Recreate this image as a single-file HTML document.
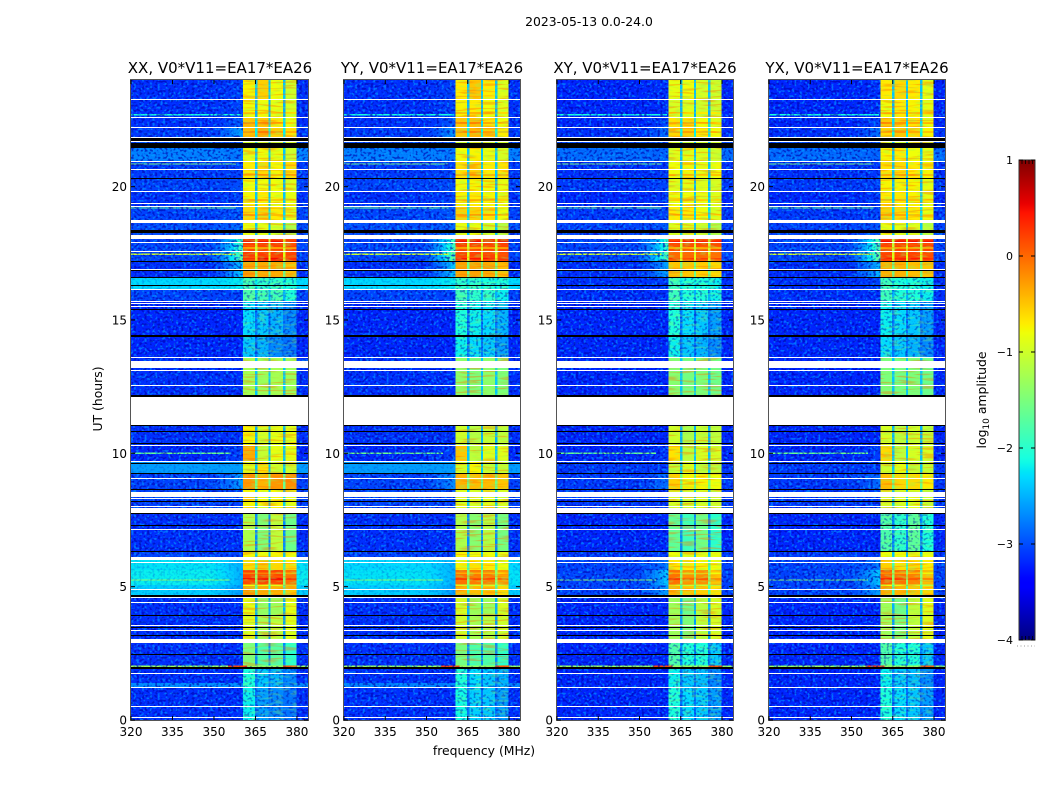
<!DOCTYPE html>
<html lang="en">
<head>
<meta charset="utf-8">
<title>2023-05-13 spectrogram panels</title>
<style>
html,body{margin:0;padding:0;background:#fff;width:1050px;height:800px;overflow:hidden}
svg{display:block}
text{font-family:"DejaVu Sans","Liberation Sans",sans-serif;fill:#000}
.tick{font-size:12px}
.title{font-size:15px}
.label{font-size:12.4px}
</style>
</head>
<body>
<svg id="chart" xmlns="http://www.w3.org/2000/svg" width="1050" height="800" viewBox="0 0 1050 800">
  <defs>
    <!-- Purely visual grain over the cells; it carries no data -->
    <filter id="grainLight" x="0" y="0" width="100%" height="100%" color-interpolation-filters="sRGB">
      <feTurbulence type="fractalNoise" baseFrequency="0.38 0.42" numOctaves="1" seed="4"/>
      <feColorMatrix type="matrix" values="0 0 0 0 0  0 0 0 0 0.62  0 0 0 0 1  7 0 0 0 -3.7"/>
    </filter>
    <filter id="grainDark" x="0" y="0" width="100%" height="100%" color-interpolation-filters="sRGB">
      <feTurbulence type="fractalNoise" baseFrequency="0.38 0.42" numOctaves="1" seed="11"/>
      <feColorMatrix type="matrix" values="0 0 0 0 0  0 0 0 0 0  0 0 0 0 0.68  7 0 0 0 -3.6"/>
    </filter>
    <filter id="streakOrange" x="0" y="0" width="100%" height="100%" color-interpolation-filters="sRGB">
      <feTurbulence type="fractalNoise" baseFrequency="0.05 0.5" numOctaves="1" seed="7"/>
      <feColorMatrix type="matrix" values="0 0 0 0 1  0 0 0 0 0.45  0 0 0 0 0  7 0 0 0 -3.6"/>
    </filter>
    <filter id="streakLime" x="0" y="0" width="100%" height="100%" color-interpolation-filters="sRGB">
      <feTurbulence type="fractalNoise" baseFrequency="0.12 0.45" numOctaves="1" seed="21"/>
      <feColorMatrix type="matrix" values="0 0 0 0 0.55  0 0 0 0 1  0 0 0 0 0.35  7 0 0 0 -3.6"/>
    </filter>
    <linearGradient id="cbarGradient" x1="0" y1="1" x2="0" y2="0"></linearGradient>
  </defs>
  <text x="589" y="26" text-anchor="middle" class="label">2023-05-13 0.0-24.0</text>
  <text transform="translate(102,399) rotate(-90)" text-anchor="middle" class="label">UT (hours)</text>
  <text x="484" y="755" text-anchor="middle" class="label">frequency (MHz)</text>
  <text transform="translate(986,400) rotate(-90)" text-anchor="middle" class="label">log<tspan font-size="9" dy="3">10</tspan><tspan dy="-3"> amplitude</tspan></text>
  <g id="panels"></g>
  <g id="colorbar"></g>
</svg>
<script>
// ---- Axis data ----
const xTickValues = [320, 335, 350, 365, 380];
const yTickValues = [0, 5, 10, 15, 20];
const cbarTickValues = [-4, -3, -2, -1, 0, 1];
const panelTitles = ["XX, V0*V11=EA17*EA26", "YY, V0*V11=EA17*EA26", "XY, V0*V11=EA17*EA26", "YX, V0*V11=EA17*EA26"];

// ---- Heatmap bins ----
// UT edges of the time bins, descending
const utEdges = [24,23.25,22.575,22.2,21.825,21.45,20.925,20.29,19.8,19.275,18.7,18.19,17.55,17.21,16.575,16.125,15.675,14.4,13.575,12.11,11.06,10.31,9.675,9.225,8.66,7.76,6.3,6.0,5.625,5.06,4.69,3.9,2.89,2.025,1.39,1.2,0];
// Frequency edges (MHz): background, band edge, then windows separated by gaps
const freqEdges = [320,349,360.5,364.8,365.7,369.8,370.5,374.9,375.8,379.9,384];

// log10 amplitude in the gaps between the spectral windows, per time bin
const gapLevel = [-2.4,-2.5,-2.3,-2.2,-2.5,-2.4,-2.4,-2.5,-2.4,-2.3,-2.4,-1.0,-0.9,-1.6,-2.2,-2.5,-2.8,-2.8,-2.4,-2.8,-2.5,-2.4,-2.4,-1.6,-2.4,-2.7,-2.4,-1.9,-1.4,-1.8,-2.5,-2.6,-2.7,-2.8,-2.8,-2.8];

// Per-panel rows: [background, band-edge, window 1, window 2, window 3, window 4]
const levelsXX = [
[-3.15,-3.05,-.75,-.55,-.8,-1.0],[-3.15,-3.05,-.8,-.8,-.85,-.95],[-3.15,-2.95,-.5,-.5,-.7,-.85],[-3.1,-2.6,-.45,-.35,-.55,-.65],
[-3,-3,-1,-1,-1,-1],[-2.75,-2.8,-.85,-.8,-.85,-1.0],[-3.1,-3.05,-.7,-.6,-.75,-.6],[-3.05,-3,-.8,-.8,-.8,-.9],
[-3.15,-3.05,-.75,-.7,-.8,-.85],[-3.05,-2.95,-.6,-.55,-.7,-.85],[-3,-2.85,-.85,-.85,-.95,-1.2],[-3.05,-1.9,.2,.2,.2,.2],
[-3.05,-1.7,.25,.25,.25,.2],[-3.15,-2.4,-.3,-.35,-.35,-.45],[-2.3,-2.2,-1.9,-2,-2,-2.1],[-3.05,-3.05,-1.8,-1.9,-1.9,-2.1],
[-3.2,-3.2,-2.3,-2.4,-2.5,-2.7],[-3.2,-3.2,-2.4,-2.5,-2.7,-2.8],[-3.15,-3.15,-1.25,-1.3,-1.25,-1.3],[-3.1,-3.1,-2,-2,-2,-2],
[-3.15,-3.15,-.75,-.95,-.85,-.85],[-3.2,-3.05,-.35,-1.05,-.85,-.85],[-2.6,-2.6,-.9,-.65,-1,-1],[-3.05,-2.6,-.25,-.4,-.25,-.2],
[-3.05,-3.05,-.75,-.8,-.75,-.85],[-3.15,-3.15,-1.2,-1.5,-1.1,-1.6],[-3.05,-3.05,-.75,-.8,-.75,-.8],[-2.25,-2.5,-.6,-.5,-.6,-.7],
[-2.2,-2.5,.2,.18,.18,-.05],[-2.35,-2.6,-.3,-.35,-.4,-.5],[-3.15,-3.15,-.85,-1.35,-1.3,-.85],[-3.15,-3.15,-.9,-1.25,-1.1,-.9],
[-3.15,-3.15,-1.5,-1.8,-1.75,-2],[-3.15,-3.15,-2.1,-2.4,-2.5,-2.7],[-2.7,-2.7,-2.1,-2.4,-2.5,-2.7],[-3.15,-3.15,-2.2,-2.6,-2.7,-2.8]];

const levelsYY = [
[-3.15,-3.05,-.7,-.5,-.7,-.9],[-3.15,-3.05,-.75,-.7,-.8,-.9],[-3.15,-2.95,-.5,-.45,-.65,-.8],[-3.1,-2.7,-.5,-.4,-.55,-.7],
[-3,-3,-1,-1,-1,-1],[-2.75,-2.8,-.8,-.75,-.85,-.95],[-3.1,-3.05,-.65,-.55,-.7,-.65],[-3.05,-3,-.8,-.75,-.8,-.85],
[-3.15,-3.05,-.75,-.7,-.75,-.85],[-3.05,-2.95,-.55,-.55,-.65,-.8],[-3,-2.85,-.85,-.85,-.95,-1.15],[-3.05,-1.9,.2,.2,.2,.2],
[-3.05,-1.7,.2,.2,.2,.15],[-3.15,-2.4,-.3,-.3,-.35,-.45],[-2.3,-2.2,-2,-2,-2.1,-2.1],[-3.05,-3.05,-1.9,-2,-2,-2.2],
[-3.2,-3.2,-2.1,-2.2,-2.3,-2.5],[-3.2,-3.2,-2.2,-2.3,-2.4,-2.6],[-3.15,-3.15,-1.4,-1.5,-1.4,-1.5],[-3.1,-3.1,-2,-2,-2,-2],
[-3.15,-3.15,-1.0,-1.15,-1.05,-1.1],[-3.2,-3.05,-.5,-1.1,-.9,-.9],[-2.6,-2.6,-.95,-.75,-1.05,-1.05],[-3.05,-2.7,-.4,-.45,-.45,-.5],
[-3.05,-3.05,-.9,-.95,-.9,-.95],[-3.15,-3.15,-1.2,-1.45,-1.15,-1.55],[-3.05,-3.05,-.75,-.8,-.8,-.85],[-2.3,-2.5,-.75,-.65,-.7,-.8],
[-2.25,-2.5,-.05,-.1,-.1,-.3],[-2.35,-2.6,-.4,-.45,-.5,-.6],[-3.15,-3.15,-.95,-1.3,-1.3,-.95],[-3.15,-3.15,-1,-1.25,-1.15,-1],
[-3.15,-3.15,-1.55,-1.85,-1.8,-2],[-3.15,-3.15,-2.1,-2.3,-2.4,-2.5],[-2.75,-2.75,-2.1,-2.3,-2.4,-2.5],[-3.15,-3.15,-2.15,-2.35,-2.4,-2.6]];

const levelsXY = [
[-3.2,-3.15,-.85,-.8,-.95,-1.0],[-3.2,-3.15,-.95,-.9,-1,-1],[-3.2,-3.05,-.65,-.65,-.8,-.9],[-3.15,-2.85,-.6,-.55,-.7,-.8],
[-3,-3,-1,-1,-1,-1],[-2.85,-2.9,-.9,-.85,-.9,-1],[-3.15,-3.1,-.8,-.75,-.85,-.8],[-3.1,-3.05,-.9,-.85,-.9,-.95],
[-3.2,-3.1,-.8,-.8,-.85,-.9],[-3.1,-3.05,-.7,-.7,-.8,-.9],[-3.05,-2.95,-.9,-.9,-1,-1.2],[-3.05,-2.0,.15,.15,.15,.15],
[-3.05,-1.8,.0,.0,.0,-.05],[-3.15,-2.6,-.5,-.5,-.55,-.6],[-3.15,-3.05,-1.9,-2.1,-2.1,-2.2],[-3.15,-3.15,-1.9,-2.1,-2.1,-2.2],
[-3.2,-3.2,-2.1,-2.3,-2.4,-2.6],[-3.2,-3.2,-2.2,-2.4,-2.5,-2.7],[-3.2,-3.2,-1.45,-1.55,-1.5,-1.6],[-3.1,-3.1,-2,-2,-2,-2],
[-3.2,-3.2,-1,-1.2,-1.05,-1.1],[-3.2,-3.1,-.65,-1.1,-.95,-.95],[-3.1,-3.1,-1.05,-.9,-1.1,-1.1],[-3.1,-2.85,-.55,-.75,-.75,-.8],
[-3.1,-3.1,-.95,-1,-.95,-1],[-3.2,-3.2,-1.7,-1.9,-1.6,-2],[-3.1,-3.1,-.8,-.85,-.85,-.85],[-3.05,-2.8,-.7,-.7,-.75,-.8],
[-3.05,-2.4,-.05,-.25,-.2,-.5],[-3.05,-2.6,-.4,-.5,-.55,-.65],[-3.2,-3.2,-1.3,-1.6,-1.15,-.95],[-3.2,-3.2,-1.3,-1.5,-1.1,-.95],
[-3.2,-3.2,-1.8,-2.1,-2.1,-2.4],[-3.2,-3.2,-2.2,-2.4,-2.45,-2.7],[-3.2,-3.2,-2.2,-2.4,-2.45,-2.7],[-3.2,-3.2,-2.1,-2.3,-2.4,-2.6]];

const levelsYX = [
[-3.2,-3.15,-.7,-.6,-.7,-.85],[-3.2,-3.15,-.8,-.7,-.75,-.85],[-3.2,-3.05,-.5,-.55,-.65,-.8],[-3.15,-2.85,-.6,-.5,-.6,-.75],
[-3,-3,-1,-1,-1,-1],[-2.85,-2.9,-.75,-.7,-.8,-.85],[-3.15,-3.1,-.65,-.6,-.7,-.75],[-3.1,-3.05,-.75,-.75,-.75,-.85],
[-3.2,-3.1,-.7,-.7,-.75,-.85],[-3.1,-3.05,-.55,-.6,-.7,-.8],[-3.05,-2.95,-.85,-.85,-.9,-1.1],[-3.05,-1.8,.2,.2,.2,.2],
[-3.05,-1.7,.2,.2,.2,.15],[-3.15,-2.5,-.4,-.4,-.45,-.5],[-3.15,-3.05,-1.9,-2.1,-2.1,-2.2],[-3.15,-3.15,-1.9,-2.1,-2.1,-2.2],
[-3.2,-3.2,-2.2,-2.3,-2.4,-2.6],[-3.2,-3.2,-2.3,-2.4,-2.5,-2.7],[-3.2,-3.2,-1.5,-1.55,-1.5,-1.6],[-3.1,-3.1,-2,-2,-2,-2],
[-3.2,-3.2,-.95,-1.1,-1,-1.05],[-3.2,-3.1,-.6,-1.1,-.95,-.95],[-3.1,-3.1,-1,-.85,-1.05,-1.05],[-3.1,-2.85,-.45,-.6,-.6,-.7],
[-3.1,-3.1,-.95,-.95,-.9,-1],[-3.2,-3.2,-1.8,-2,-1.7,-2.1],[-3.1,-3.1,-.8,-.8,-.85,-.8],[-3.05,-2.8,-.55,-.65,-.6,-.7],
[-3.05,-2.4,.05,-.05,-.15,-.45],[-3.05,-2.6,-.35,-.4,-.5,-.6],[-3.2,-3.2,-1.3,-1.6,-1.1,-.9],[-3.2,-3.2,-1.3,-1.5,-1.1,-.9],
[-3.2,-3.2,-1.8,-2.1,-2.1,-2.4],[-3.2,-3.2,-2.2,-2.4,-2.45,-2.7],[-3.2,-3.2,-2.2,-2.4,-2.45,-2.7],[-3.2,-3.2,-2.1,-2.3,-2.4,-2.6]];

const panelLevels = [levelsXX, levelsYY, levelsXY, levelsYX];

// Thin horizontal structure inside the spectral windows: UT and offset in log10 amplitude
const stripeUT = [22.76,22.39,22.05,20.44,19.5,18.94,17.95,17.7,17.3,5.5,5.29,5.05];
const stripeShift = [0.3,0.3,0.25,0.3,0.3,0.25,0.3,-0.5,0.25,-0.3,0.3,-0.5];

// Narrow interference lines: UT, start MHz, end MHz, log10 amplitude
const rfiUT = [22.7,20.85,19.2,17.47,10.0,5.25,2.02,2.02,2.02];
const rfiStart = [320,320,320,320,320,320,320,355,375];
const rfiEnd = [360,358,358,358,356,356,384,362,380];
const rfiLevel = [-2.1,-1.5,-1.6,-1.0,-1.6,-1.4,-1.3,0.2,0.1];

// Flagged intervals: UT top, UT bottom
const whiteFlags = [[23.27,23.22],[22.6,22.55],[22.22,22.17],[21.88,21.84],[21.7,21.65],[20.95,20.9],[20.68,20.63],[19.82,19.77],[19.37,19.32],[19.29,19.24],[18.75,18.64],[18.19,18.04],[17.91,17.86],[17.57,17.52],[16.93,16.88],[16.15,16.1],[15.7,15.65],[15.62,15.57],[15.51,15.46],[13.6,13.55],[13.46,13.2],[13.11,13.06],[12.58,12.53],[12.11,11.06],[10.33,10.28],[9.7,9.65],[9.06,9.01],[8.55,8.36],[8.31,8.26],[8.01,7.96],[7.95,7.76],[7.18,7.13],[6.11,6.0],[5.91,5.86],[4.9,4.85],[4.6,4.55],[4.41,4.36],[3.58,3.53],[3.36,3.31],[3.04,2.89],[1.78,1.73],[1.22,1.17],[0.51,0.46],[0.1,0.05]];
const blackFlags = [[21.825,21.7],[21.65,21.45],[20.31,20.26],[18.375,18.26],[17.23,17.18],[16.86,16.81],[16.6,16.55],[16.33,16.28],[15.4,15.35],[14.44,14.36],[12.17,12.11],[11.06,11.02],[10.82,10.77],[10.37,10.32],[9.62,9.57],[9.25,9.2],[8.68,8.63],[8.2,8.15],[7.76,7.71],[7.33,7.28],[6.32,6.27],[4.69,4.61],[3.92,3.87],[3.47,3.42],[3.17,3.12],[2.46,2.41],[1.97,1.9]];

// ---- Layout and scales ----
const panelLeft = [131, 344, 557, 769];
const panelWidth = [177, 176, 176, 176];
const titleCenter = [220, 432, 645, 857];
let plotWidth = 177;
const plotTop = 80, plotBottom = 720;
const cbarLeft = 1019, cbarRight = 1035, cbarTop = 160, cbarBottom = 640;
const NS = "http://www.w3.org/2000/svg";
const panelsRoot = document.getElementById("panels");
const cbarRoot = document.getElementById("colorbar");
const defsRoot = document.querySelector("defs");

function xScale(mhz, left) { return left + (mhz - 320) / 64 * plotWidth; }
function yScale(ut) { return plotBottom - ut / 24 * (plotBottom - plotTop); }
function cbarScale(v) { return cbarBottom - (v + 4) / 5 * (cbarBottom - cbarTop); }

function interp(stops, t) {
  for (let i = 1; i < stops.length; i++) {
    if (t <= stops[i][0]) {
      const a = stops[i - 1], b = stops[i];
      return a[1] + (b[1] - a[1]) * (t - a[0]) / (b[0] - a[0]);
    }
  }
  return stops[stops.length - 1][1];
}
const jetR = [[0,0],[.35,0],[.66,1],[.89,1],[1,.5]];
const jetG = [[0,0],[.125,0],[.375,1],[.64,1],[.91,0],[1,0]];
const jetB = [[0,.5],[.11,1],[.34,1],[.65,0],[1,0]];
function colorFor(v) {
  const t = Math.max(0, Math.min(1, (v + 4) / 5));
  const c = s => Math.round(255 * interp(s, t));
  return "rgb(" + c(jetR) + "," + c(jetG) + "," + c(jetB) + ")";
}
function make(tag, attrs, parent) {
  const el = document.createElementNS(NS, tag);
  for (const k in attrs) el.setAttribute(k, attrs[k]);
  parent.appendChild(el);
  return el;
}
function levelForColumn(row, rowIndex, col) {
  if (col === 0 || col === 9) return row[0];
  if (col === 1) return row[1];
  if (col === 2) return row[2];
  if (col === 3 || col === 5 || col === 7) return gapLevel[rowIndex];
  if (col === 4) return row[3];
  if (col === 6) return row[4];
  return row[5];
}
function rowIndexFor(ut) {
  for (let r = 0; r < utEdges.length - 1; r++) {
    if (ut <= utEdges[r] && ut > utEdges[r + 1]) return r;
  }
  return 0;
}
// Group of grain layers restricted to the time bins a test selects, within frequency ranges
function grainGroup(body, id, p, left, test, ranges) {
  const clip = make("clipPath", { id: id }, defsRoot);
  panelLevels[p].forEach(function (row, r) {
    if (!test(row)) return;
    ranges.forEach(function (range) {
      make("rect", { x: xScale(range[0], left), y: yScale(utEdges[r]), width: xScale(range[1], left) - xScale(range[0], left), height: yScale(utEdges[r + 1]) - yScale(utEdges[r]) }, clip);
    });
  });
  return make("g", { "clip-path": "url(#" + id + ")" }, body);
}
function addGrain(parent, left, filterId, opacity, name) {
  const rect = make("rect", { x: left, y: plotTop, width: plotWidth, height: plotBottom - plotTop, filter: "url(#" + filterId + ")", opacity: opacity }, parent);
  
  
}

function drawPanel(p) {
  const left = panelLeft[p];
  plotWidth = panelWidth[p];
  const group = make("g", {}, panelsRoot);
  
  

  const clip = make("clipPath", { id: "clip" + p }, defsRoot);
  make("rect", { x: left, y: plotTop, width: plotWidth, height: plotBottom - plotTop }, clip);
  const body = make("g", { "clip-path": "url(#clip" + p + ")" }, group);

  // Heatmap cells; the band-edge column ramps from background to its edge level
  panelLevels[p].forEach(function (row, r) {
    const y0 = yScale(utEdges[r]), y1 = yScale(utEdges[r + 1]);
    for (let c = 0; c < freqEdges.length - 1; c++) {
      const x0 = xScale(freqEdges[c], left), x1 = xScale(freqEdges[c + 1], left);
      const steps = c === 1 ? 7 : 1;
      for (let k = 0; k < steps; k++) {
        const level = c === 1 ? row[0] + (row[1] - row[0]) * Math.pow((k + 1) / steps, 1.5) : levelForColumn(row, r, c);
        const sx = x0 + (x1 - x0) * k / steps;
        const cell = make("rect", { x: sx, y: y0, width: (x1 - x0) / steps, height: y1 - y0, fill: colorFor(level), "shape-rendering": "crispEdges" }, body);
        
        
      }
    }
  });

  // Window stripes
  stripeUT.forEach(function (ut, i) {
    const r = rowIndexFor(ut);
    [2, 4, 6, 8].forEach(function (c) {
      const x0 = xScale(freqEdges[c], left), x1 = xScale(freqEdges[c + 1], left);
      const level = levelForColumn(panelLevels[p][r], r, c) + stripeShift[i];
      const stripe = make("rect", { x: x0, y: yScale(ut) - 0.9, width: x1 - x0, height: 1.8, fill: colorFor(level), "shape-rendering": "crispEdges" }, body);
      
      
    });
  });

  // Interference lines
  rfiUT.forEach(function (ut, i) {
    const line = make("rect", { x: xScale(rfiStart[i], left), y: yScale(ut) - 0.7, width: xScale(rfiEnd[i], left) - xScale(rfiStart[i], left), height: 1.4, fill: colorFor(rfiLevel[i]), "shape-rendering": "crispEdges" }, body);
    
    
  });

  // Grain is strong on quiet background, faint on the bright bands, streaky on bright windows
  const bgRanges = [[320, 360.5], [379.9, 384]];
  const winRanges = [[360.5, 379.9]];
  const quiet = grainGroup(body, "grainQuiet" + p, p, left, function (row) { return row[0] < -2.6; }, bgRanges);
  addGrain(quiet, left, "grainLight", 0.62, "grain-light-background");
  addGrain(quiet, left, "grainDark", 0.62, "grain-dark-background");
  const bright = grainGroup(body, "grainBright" + p, p, left, function (row) { return row[0] >= -2.6; }, bgRanges);
  addGrain(bright, left, "grainLight", 0.3, "grain-light-bright-background");
  addGrain(bright, left, "grainDark", 0.16, "grain-dark-bright-background");
  const lowWin = grainGroup(body, "grainLowWin" + p, p, left, function (row) { return row[2] < -1.7; }, winRanges);
  addGrain(lowWin, left, "grainDark", 0.42, "grain-dark-low-windows");
  addGrain(lowWin, left, "streakLime", 0.28, "streak-lime-low-windows");
  const highWin = grainGroup(body, "grainHighWin" + p, p, left, function (row) { return row[2] >= -1.7; }, winRanges);
  addGrain(highWin, left, "streakOrange", 0.4, "streak-orange-windows");
  addGrain(highWin, left, "streakLime", 0.3, "streak-lime-windows");

  // Flags
  whiteFlags.forEach(function (f) {
    const h = Math.max(1, yScale(f[1]) - yScale(f[0]));
    const flag = make("rect", { x: left, y: Math.round(yScale(f[0])), width: plotWidth, height: Math.round(h), fill: "#fff", "shape-rendering": "crispEdges" }, body);
    
    
  });
  blackFlags.forEach(function (f) {
    const h = Math.max(1, yScale(f[1]) - yScale(f[0]));
    const flag = make("rect", { x: left, y: Math.round(yScale(f[0])), width: plotWidth, height: Math.round(h), fill: "#000", "shape-rendering": "crispEdges" }, body);
    
    
  });

  // Frame
  const frame = make("rect", { x: left - 0.5, y: plotTop - 0.5, width: plotWidth + 1, height: plotBottom - plotTop + 1, fill: "none", stroke: "#555", "stroke-width": 1 }, group);
  
  

  // Ticks and labels
  xTickValues.forEach(function (v) {
    const x = xScale(v, left);
    const t1 = make("line", { x1: x, x2: x, y1: plotBottom, y2: plotBottom - 4, stroke: "#000" }, group);
    
    
    const t2 = make("line", { x1: x, x2: x, y1: plotTop, y2: plotTop + 4, stroke: "#000" }, group);
    
    
    const label = make("text", { x: x, y: 736, "text-anchor": "middle", class: "tick" }, group);
    label.textContent = String(v);
    
    
  });
  yTickValues.forEach(function (v) {
    const y = yScale(v);
    const t1 = make("line", { x1: left, x2: left + 4, y1: y, y2: y, stroke: "#000" }, group);
    
    
    const t2 = make("line", { x1: left + plotWidth, x2: left + plotWidth - 4, y1: y, y2: y, stroke: "#000" }, group);
    
    
    const label = make("text", { x: left - 4, y: y + 4.5, "text-anchor": "end", class: "tick" }, group);
    label.textContent = String(v);
    
    
  });

  const title = make("text", { x: titleCenter[p], y: 73, "text-anchor": "middle", class: "title" }, group);
  title.textContent = panelTitles[p];
  
  
}
panelTitles.forEach(function (_, p) { drawPanel(p); });

// ---- Colorbar ----
const gradient = document.getElementById("cbarGradient");
for (let i = 0; i <= 100; i++) {
  make("stop", { offset: i + "%", "stop-color": colorFor(-4 + 5 * i / 100) }, gradient);
}
const cbarRect = make("rect", { x: cbarLeft, y: cbarTop, width: cbarRight - cbarLeft, height: cbarBottom - cbarTop, fill: "url(#cbarGradient)", stroke: "#333", "stroke-width": 1 }, cbarRoot);


cbarTickValues.forEach(function (v) {
  const y = cbarScale(v);
  const t1 = make("line", { x1: cbarLeft, x2: cbarLeft + 4, y1: y, y2: y, stroke: "#000" }, cbarRoot);
  
  
  const t2 = make("line", { x1: cbarRight, x2: cbarRight - 4, y1: y, y2: y, stroke: "#000" }, cbarRoot);
  
  
  const label = make("text", { x: cbarLeft - 6, y: y + 4, "text-anchor": "end", style: "font-size:11px" }, cbarRoot);
  label.textContent = String(v).replace("-", "\u2212");
  
  
});
[1022, 1025.5, 1029, 1032.5].forEach(function (x) {
  const top = make("line", { x1: x, x2: x, y1: cbarTop, y2: cbarTop + 4, stroke: "#000", "stroke-width": 0.8 }, cbarRoot);
  
  
  const bottom = make("line", { x1: x, x2: x, y1: cbarBottom, y2: cbarBottom - 4, stroke: "#000", "stroke-width": 0.8 }, cbarRoot);
  
  
});
const dots = make("line", { x1: 1017, x2: 1035, y1: 646, y2: 646, stroke: "#999", "stroke-width": 1, "stroke-dasharray": "1 2.5" }, cbarRoot);


</script>
</body>
</html>
